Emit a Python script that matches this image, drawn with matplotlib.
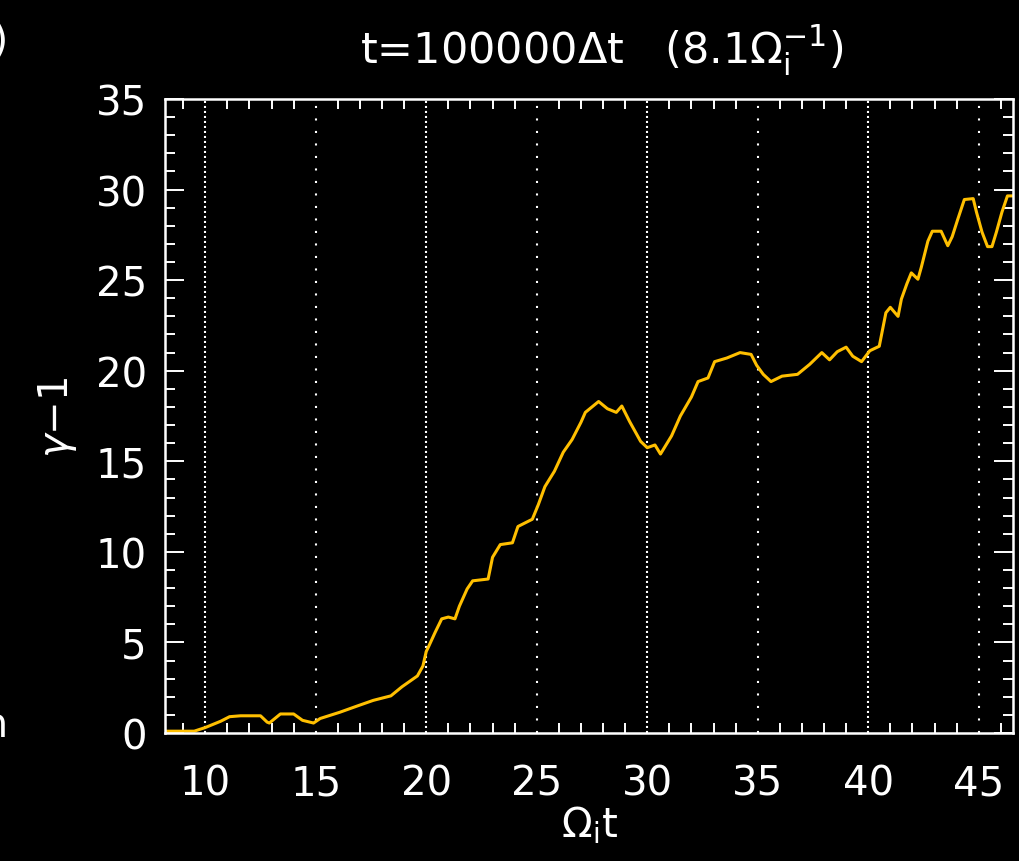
import matplotlib
matplotlib.use('Agg')
import matplotlib.pyplot as plt
from matplotlib.ticker import MultipleLocator

# gamma-1 vs Omega_i t
t = [8.2, 9.5, 10.0, 10.7, 11.1, 11.6, 12.5, 12.8, 12.9, 13.4, 14.0, 14.4, 14.9,
     15.2, 16.1, 16.9, 17.6, 18.4, 18.9, 19.6, 19.85, 20.0, 20.1, 20.4, 20.7,
     21.0, 21.3, 21.5, 21.85, 22.1, 22.8, 23.0, 23.35, 23.9, 24.15, 24.8, 25.07,
     25.37, 25.8, 26.2, 26.6, 27.0, 27.2, 27.8, 28.2, 28.6, 28.85, 29.2, 29.7,
     30.0, 30.35, 30.6, 31.1, 31.5, 32.0, 32.3, 32.75, 33.05, 33.6, 34.2, 34.7,
     34.95, 35.25, 35.6, 36.1, 36.8, 37.35, 37.9, 38.25, 38.6, 39.0, 39.3, 39.7,
     40.07, 40.5, 40.8, 41.0, 41.35, 41.5, 41.75, 41.95, 42.25, 42.4, 42.7, 42.9,
     43.3, 43.6, 43.8, 44.05, 44.35, 44.75, 44.9, 45.15, 45.4, 45.6, 45.8, 46.05,
     46.3, 46.55]
g = [0.1, 0.1, 0.3, 0.65, 0.9, 0.95, 0.95, 0.6, 0.55, 1.05, 1.05, 0.7, 0.55,
     0.8, 1.15, 1.5, 1.8, 2.05, 2.55, 3.15, 3.7, 4.5, 4.75, 5.55, 6.3,
     6.4, 6.3, 7.0, 7.95, 8.4, 8.5, 9.7, 10.4, 10.5, 11.4, 11.8, 12.6,
     13.6, 14.45, 15.5, 16.2, 17.15, 17.7, 18.3, 17.9, 17.7, 18.05, 17.2, 16.1,
     15.75, 15.9, 15.4, 16.4, 17.5, 18.55, 19.4, 19.6, 20.5, 20.7, 21.0, 20.9,
     20.3, 19.8, 19.4, 19.7, 19.8, 20.35, 21.0, 20.6, 21.05, 21.3, 20.8, 20.5,
     21.1, 21.35, 23.2, 23.5, 23.0, 23.95, 24.8, 25.4, 25.05, 25.7, 27.15, 27.7,
     27.7, 26.9, 27.4, 28.35, 29.45, 29.5, 28.75, 27.65, 26.85, 26.85, 27.65, 28.75,
     29.65, 29.65]

dense_lines = [10, 20, 30, 40]
sparse_lines = [15, 25, 35, 45]

plt.rcParams['font.family'] = 'DejaVu Sans'
plt.rcParams['mathtext.fontset'] = 'dejavusans'

fig = plt.figure(figsize=(10.2, 8.62), dpi=100)
fig.patch.set_facecolor('black')
ax = fig.add_axes([0.1618, 0.1485, 0.8313, 0.7355])
ax.set_facecolor('black')

for x in dense_lines:
    ax.axvline(x, color='white', lw=1.5, dashes=(1, 1.4))
for x in sparse_lines:
    ax.axvline(x, color='white', lw=1.5, dashes=(1, 5))

ax.plot(t, g, color='#FFBF00', lw=2.2)

ax.set_xlim(8.18, 46.55)
ax.set_ylim(0, 35)
ax.xaxis.set_major_locator(MultipleLocator(5))
ax.xaxis.set_minor_locator(MultipleLocator(1))
ax.yaxis.set_major_locator(MultipleLocator(5))
ax.yaxis.set_minor_locator(MultipleLocator(1))

for s in ax.spines.values():
    s.set_color('white')
    s.set_linewidth(1.8)

ax.tick_params(axis='x', which='major', direction='in', length=0, pad=22,
               colors='white', labelsize=29, top=True)
ax.tick_params(axis='x', which='minor', direction='in', length=7, width=1.4,
               colors='white', top=True)
ax.tick_params(axis='y', which='major', direction='in', length=14, width=1.4,
               pad=13, colors='white', labelsize=29, right=True)
ax.tick_params(axis='y', which='minor', direction='in', length=7, width=1.4,
               colors='white', right=True)

ax.set_title(r't=100000$\Delta$t   (8.1$\Omega_{\rm i}^{-1}$)', color='white',
             fontsize=31, pad=26, x=0.515)
ax.set_xlabel(r'$\Omega_{\rm i}$t', color='white', fontsize=29, labelpad=0)
ax.set_ylabel(r'$\gamma$$-$1', color='white', fontsize=29, labelpad=12)

# bits of neighbouring panels cut by the frame
fig.text(0.009, 0.975, 'a)', color='white', fontsize=29, ha='right', va='top')
fig.text(0.007, 0.135, 'm', color='white', fontsize=29, ha='right', va='bottom')

fig.savefig('out.png', dpi=100, facecolor='black')
